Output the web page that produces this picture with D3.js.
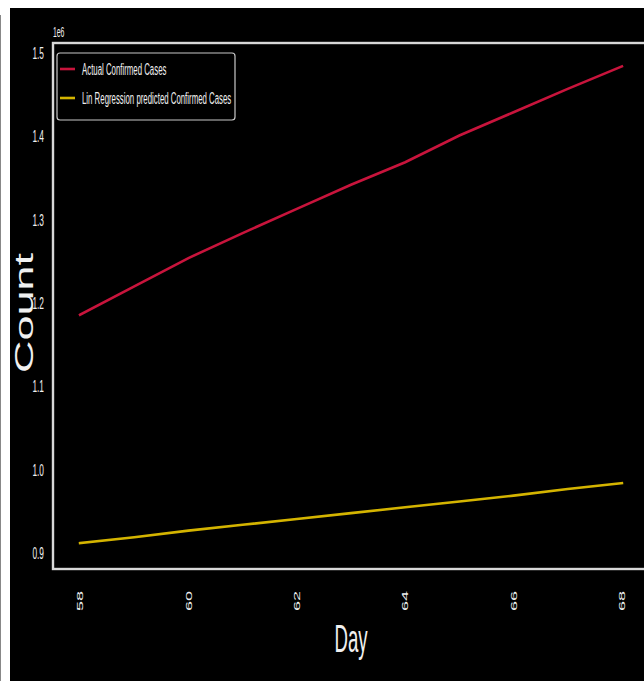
<!DOCTYPE html>
<html>
<head>
<meta charset="utf-8">
<script src="https://cdn.jsdelivr.net/npm/d3@7"></script>
<style>
  body { margin: 0; background: #fff; }
  svg { display: block; }
  text { font-family: "Liberation Sans", Arial, sans-serif; fill: #f0f0f0; }
</style>
</head>
<body>
<div id="chart"></div>
<script>
// Data
const DAYS = [58, 59, 60, 61, 62, 63, 64, 65, 66, 67, 68];
const ACTUAL_CASES = [1186000, 1220000, 1254000, 1284000, 1313000, 1342000, 1369000, 1401000, 1429000, 1457000, 1484000];
const PREDICTED_CASES = [912000, 919000, 927000, 934000, 941000, 948000, 955000, 962000, 969000, 977000, 984000];
const X_TICKS = [58, 60, 62, 64, 66, 68];
const Y_TICKS = [900000, 1000000, 1100000, 1200000, 1300000, 1400000, 1500000];
const Y_TICK_LABELS = ['0.9', '1.0', '1.1', '1.2', '1.3', '1.4', '1.5'];
const SERIES_NAMES = ['Actual Confirmed Cases', 'Lin Regression predicted Confirmed Cases'];
const SERIES_COLORS = ['#c8143c', '#d4b400'];

// Dimensions
const WIDTH = 644;
const HEIGHT = 681;
const PLOT = { left: 53, top: 43, right: 649, bottom: 569 };
const SQUEEZE = 0.49; // the reference text is squashed horizontally

const svg = d3.select('#chart')
  .append('svg')
  .attr('width', WIDTH)
  .attr('height', HEIGHT);

// Black figure background, with the thin grey edge on the far left
svg.append('rect')
  .attr('x', 10)
  .attr('y', 8)
  .attr('width', WIDTH - 10)
  .attr('height', HEIGHT - 8)
  .attr('fill', '#000');

svg.append('line')
  .attr('x1', 0.5)
  .attr('x2', 0.5)
  .attr('y1', 15)
  .attr('y2', HEIGHT)
  .attr('stroke', '#888')
  .attr('stroke-width', 1);

// Scales
const x = d3.scaleLinear().domain([57.5, 68.5]).range([PLOT.left, PLOT.right]);
const y = d3.scaleLinear().domain([881000, 1512000]).range([PLOT.bottom, PLOT.top]);

// Lines
const line = d3.line()
  .x((d, i) => x(DAYS[i]))
  .y(d => y(d));

[ACTUAL_CASES, PREDICTED_CASES].forEach((values, i) => {
  svg.append('path')
    .datum(values)
    .attr('d', line)
    .attr('fill', 'none')
    .attr('stroke', SERIES_COLORS[i])
    .attr('stroke-width', 2.6)
    .attr('stroke-linecap', 'square');
});

// Spines
svg.append('rect')
  .attr('x', PLOT.left)
  .attr('y', PLOT.top)
  .attr('width', PLOT.right - PLOT.left)
  .attr('height', PLOT.bottom - PLOT.top)
  .attr('fill', 'none')
  .attr('stroke', '#d8d8d8')
  .attr('stroke-width', 2.4);

// Y tick labels
svg.append('g')
  .selectAll('text')
  .data(Y_TICKS)
  .enter()
  .append('text')
  .attr('transform', d => `translate(44,${y(d)}) scale(${SQUEEZE},1)`)
  .attr('text-anchor', 'end')
  .attr('dy', '0.35em')
  .style('font-size', '17px')
  .text((d, i) => Y_TICK_LABELS[i]);

// Offset text
svg.append('text')
  .attr('transform', `translate(53,37) scale(${SQUEEZE},1)`)
  .style('font-size', '14px')
  .text('1e6');

// X tick labels, rotated
svg.append('g')
  .selectAll('text')
  .data(X_TICKS)
  .enter()
  .append('text')
  .attr('transform', d => `translate(${x(d)},591) scale(${SQUEEZE},1) rotate(-90)`)
  .attr('text-anchor', 'end')
  .attr('dy', '0.35em')
  .style('font-size', '18px')
  .text(d => d);

// Axis titles
svg.append('text')
  .attr('transform', `translate(351,652) scale(${SQUEEZE},1)`)
  .attr('text-anchor', 'middle')
  .style('font-size', '38px')
  .text('Day');

svg.append('text')
  .attr('transform', `translate(33,313) scale(0.56,1) rotate(-90)`)
  .attr('text-anchor', 'middle')
  .style('font-size', '45px')
  .text('Count');

// Legend
const legend = svg.append('g');

legend.append('rect')
  .attr('x', 57)
  .attr('y', 53)
  .attr('width', 178)
  .attr('height', 67)
  .attr('rx', 3)
  .attr('fill', '#000')
  .attr('stroke', '#c8c8c8')
  .attr('stroke-width', 1.2);

SERIES_NAMES.forEach((name, i) => {
  const ly = 69 + i * 29;
  legend.append('line')
    .attr('x1', 60)
    .attr('x2', 75)
    .attr('y1', ly)
    .attr('y2', ly)
    .attr('stroke', SERIES_COLORS[i])
    .attr('stroke-width', 2.6);
  legend.append('text')
    .attr('transform', `translate(82,${ly}) scale(${SQUEEZE},1)`)
    .attr('dy', '0.35em')
    .style('font-size', '16px')
    .text(name);
});
</script>
</body>
</html>
